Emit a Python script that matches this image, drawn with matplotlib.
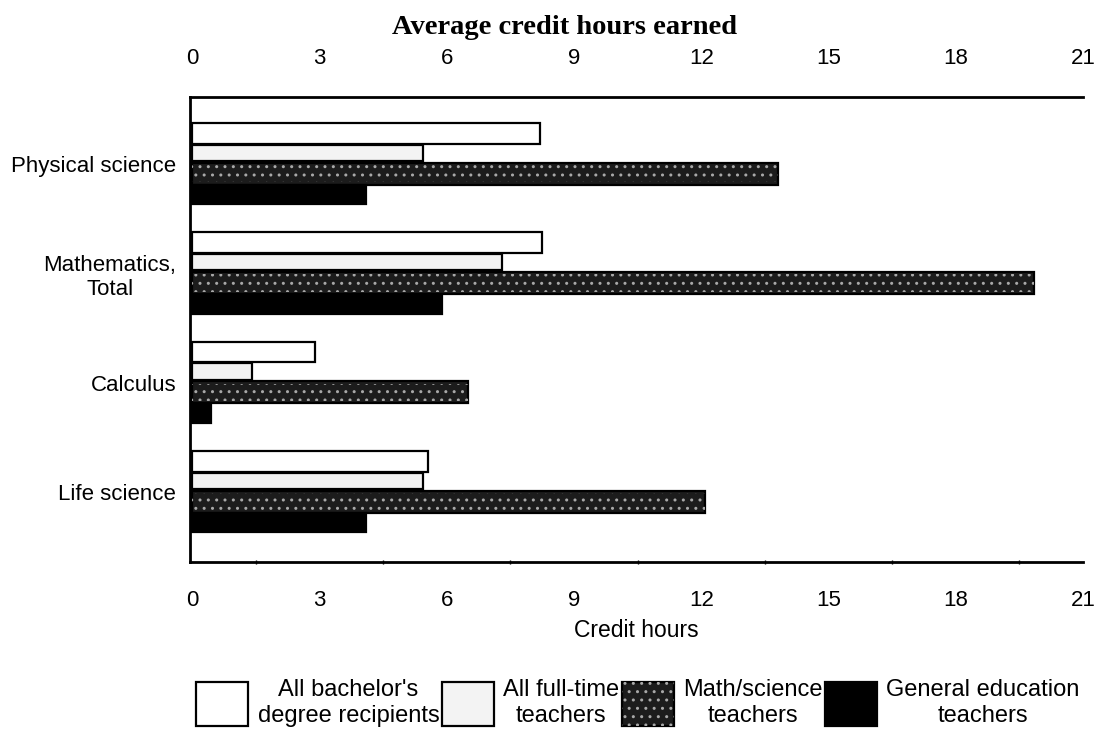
import matplotlib
matplotlib.use("Agg")
import matplotlib.pyplot as plt
import numpy as np

# Data: average credit hours earned by subject
categories = ["Physical science", "Mathematics,\nTotal", "Calculus", "Life science"]
series_names = [
    "All bachelor's\ndegree recipients",
    "All full-time\nteachers",
    "Math/science\nteachers",
    "General education\nteachers",
]
bachelors = [8.2, 8.25, 2.9, 5.55]
fulltime = [5.45, 7.3, 1.4, 5.45]
mathsci = [13.8, 19.85, 6.5, 12.1]
gened = [4.1, 5.9, 0.45, 4.1]
xticks = [0, 3, 6, 9, 12, 15, 18, 21]

series = [bachelors, fulltime, mathsci, gened]
faces = ["white", "#f3f3f3", "#1c1c1c", "black"]
offsets = [-0.28, -0.10, 0.09, 0.28]
heights = [0.19, 0.15, 0.20, 0.18]

plt.rcParams["font.family"] = ["Liberation Sans", "DejaVu Sans"]
plt.rcParams["hatch.linewidth"] = 1.0

fig = plt.figure(figsize=(11, 7.34), dpi=100)
ax = fig.add_axes([190 / 1100, 1 - 562 / 734, (1083 - 190) / 1100, (562 - 97) / 734])

y = np.arange(len(categories))
handles = []
for vals, fc, off, h in zip(series, faces, offsets, heights):
    b = ax.barh(y + off, vals, height=h, left=0, color=fc, edgecolor="black",
                linewidth=1.6, zorder=2)
    handles.append(b)

# speckled texture on the math/science bars
speck = ax.barh(y + offsets[2], mathsci, height=heights[2] * 0.8, color="none",
                edgecolor="#a8a8a8", hatch="..", linewidth=0, zorder=3)

ax.set_xlim(-0.05, 21)
ax.set_ylim(3.64, -0.61)

ax.set_yticks(y)
ax.set_yticklabels(categories, fontsize=16)
for t in ax.get_yticklabels():
    t.set_multialignment("center")
ax.tick_params(axis="y", length=0, pad=10)

ax.set_xticks(xticks)
ax.set_xticklabels([str(v) for v in xticks], fontsize=16)
ax.tick_params(axis="x", which="major", length=0, pad=20, top=True, labeltop=True)
ax.set_xticks(np.arange(0, 21.01, 1.5), minor=True)
ax.tick_params(axis="x", which="minor", length=3, width=1, direction="inout",
               bottom=True, top=False)

ax.set_xlabel("Credit hours", fontsize=16.5, labelpad=6)

for side in ["left", "top", "bottom"]:
    ax.spines[side].set_linewidth(2)
ax.spines["right"].set_visible(False)

fig.text(565 / 1100, 1 - 28 / 734, "Average credit hours earned",
         family=["Liberation Serif", "DejaVu Serif"], fontweight="bold",
         fontsize=20.5, ha="center", va="center")

leg = fig.legend([(handles[0],), (handles[1],), (handles[2], speck), (handles[3],)],
                 series_names, loc="center", bbox_to_anchor=(638 / 1100, 1 - 703 / 734),
                 ncol=4, frameon=False, fontsize=17, handlelength=2.2,
                 handleheight=2.5, handletextpad=0.4, columnspacing=0.1)
for t in leg.get_texts():
    t.set_multialignment("center")

fig.savefig("out.png", dpi=100)
